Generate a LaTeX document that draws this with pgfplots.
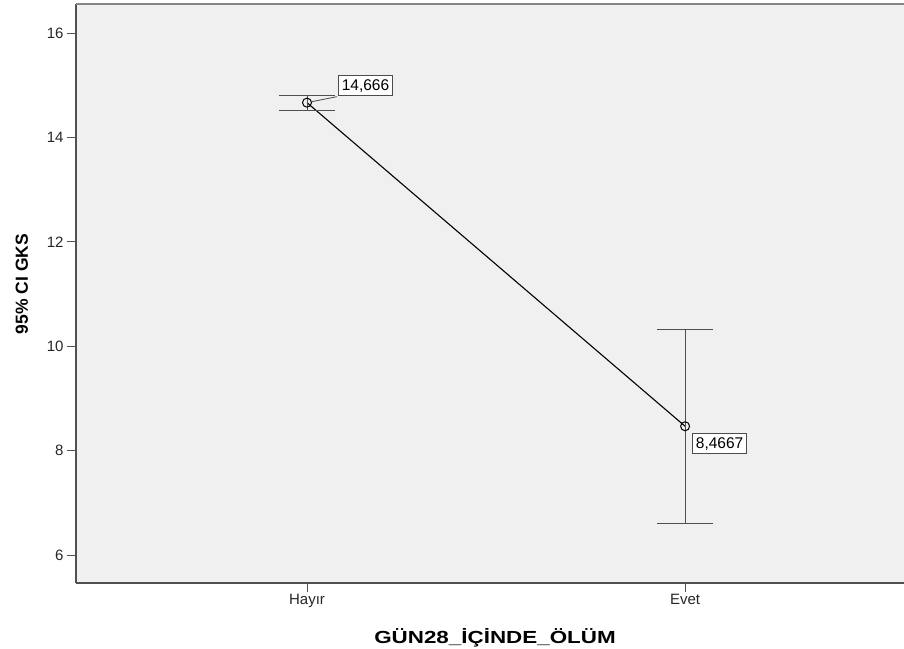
\documentclass[border=0pt]{standalone}
\usepackage{fontspec}
\setmainfont{Liberation Sans}
\usepackage{graphicx}
\usepackage{pgfplots}
\pgfplotsset{compat=1.18}
\definecolor{bg}{RGB}{240,240,240}
\definecolor{axisgray}{RGB}{80,80,80}
\definecolor{topgray}{RGB}{135,135,135}
\begin{document}
\begin{tikzpicture}
\begin{axis}[
  name=ax,
  scale only axis,
  width=828bp, height=579bp,
  xmin=-0.611, xmax=1.579,
  ymin=5.464, ymax=16.556,
  axis x line=box, axis y line=left,
  x axis line style={-, axisgray, line width=1.3bp},
  y axis line style={-, axisgray, line width=1.3bp},
  axis background/.style={fill=bg},
  xtick={0,1}, xticklabels={Hayır,Evet},
  ytick={6,8,10,12,14,16},
  xtick pos=bottom, ytick pos=left,
  tick align=outside,
  major tick length=9bp,
  tick style={axisgray, line width=1bp},
  ticklabel style={font=\fontsize{15bp}{18bp}\selectfont, text=black!85},
  xticklabel style={yshift=1bp},
  /pgf/number format/assume math mode=true,
  xlabel={\scalebox{1.28}[1]{GÜN28\_İÇİNDE\_ÖLÜM}},
  ylabel={95\% CI GKS},
  label style={font=\bfseries\fontsize{17.5bp}{20bp}\selectfont},
  xlabel style={at={(axis description cs:0.5,0)}, anchor=base, yshift=-60bp, xshift=5bp},
  ylabel style={at={(axis description cs:0,0.5)}, anchor=base, xshift=9.5bp, yshift=48bp},
  clip=false,
]
\draw[topgray, line width=1.6bp] (rel axis cs:0,1) -- (rel axis cs:1,1);
\addplot[black, line width=1.1bp, mark=o, mark size=4.5bp, mark options={solid, line width=1bp},
  error bars/.cd, y dir=both, y explicit,
  error bar style={axisgray, line width=1bp},
  error mark options={rotate=90, mark size=28bp, axisgray, line width=1bp}]
  coordinates {(0,14.666) +- (0,0.145) (1,8.4667) +- (0,1.855)};
\draw[black!70, line width=0.8bp] (axis cs:0,14.666) ++(5bp,1bp) -- ++(25bp,5bp);
\node[draw=black!70, line width=0.9bp, fill=white, inner xsep=3.5bp, inner ysep=3.5bp, font=\fontsize{15.5bp}{18bp}\selectfont]
  at (axis cs:0,14.666) [xshift=58.5bp, yshift=17bp] {14,666};
\node[draw=black!70, line width=0.9bp, fill=white, inner xsep=3.5bp, inner ysep=3.5bp, font=\fontsize{15.5bp}{18bp}\selectfont]
  at (axis cs:1,8.4667) [xshift=34.5bp, yshift=-17.5bp] {8,4667};
\end{axis}
\pgfresetboundingbox
\path[use as bounding box] ([shift={(-76bp,-66bp)}]ax.south west) rectangle ([shift={(0bp,4bp)}]ax.north east);
\end{tikzpicture}
\end{document}
